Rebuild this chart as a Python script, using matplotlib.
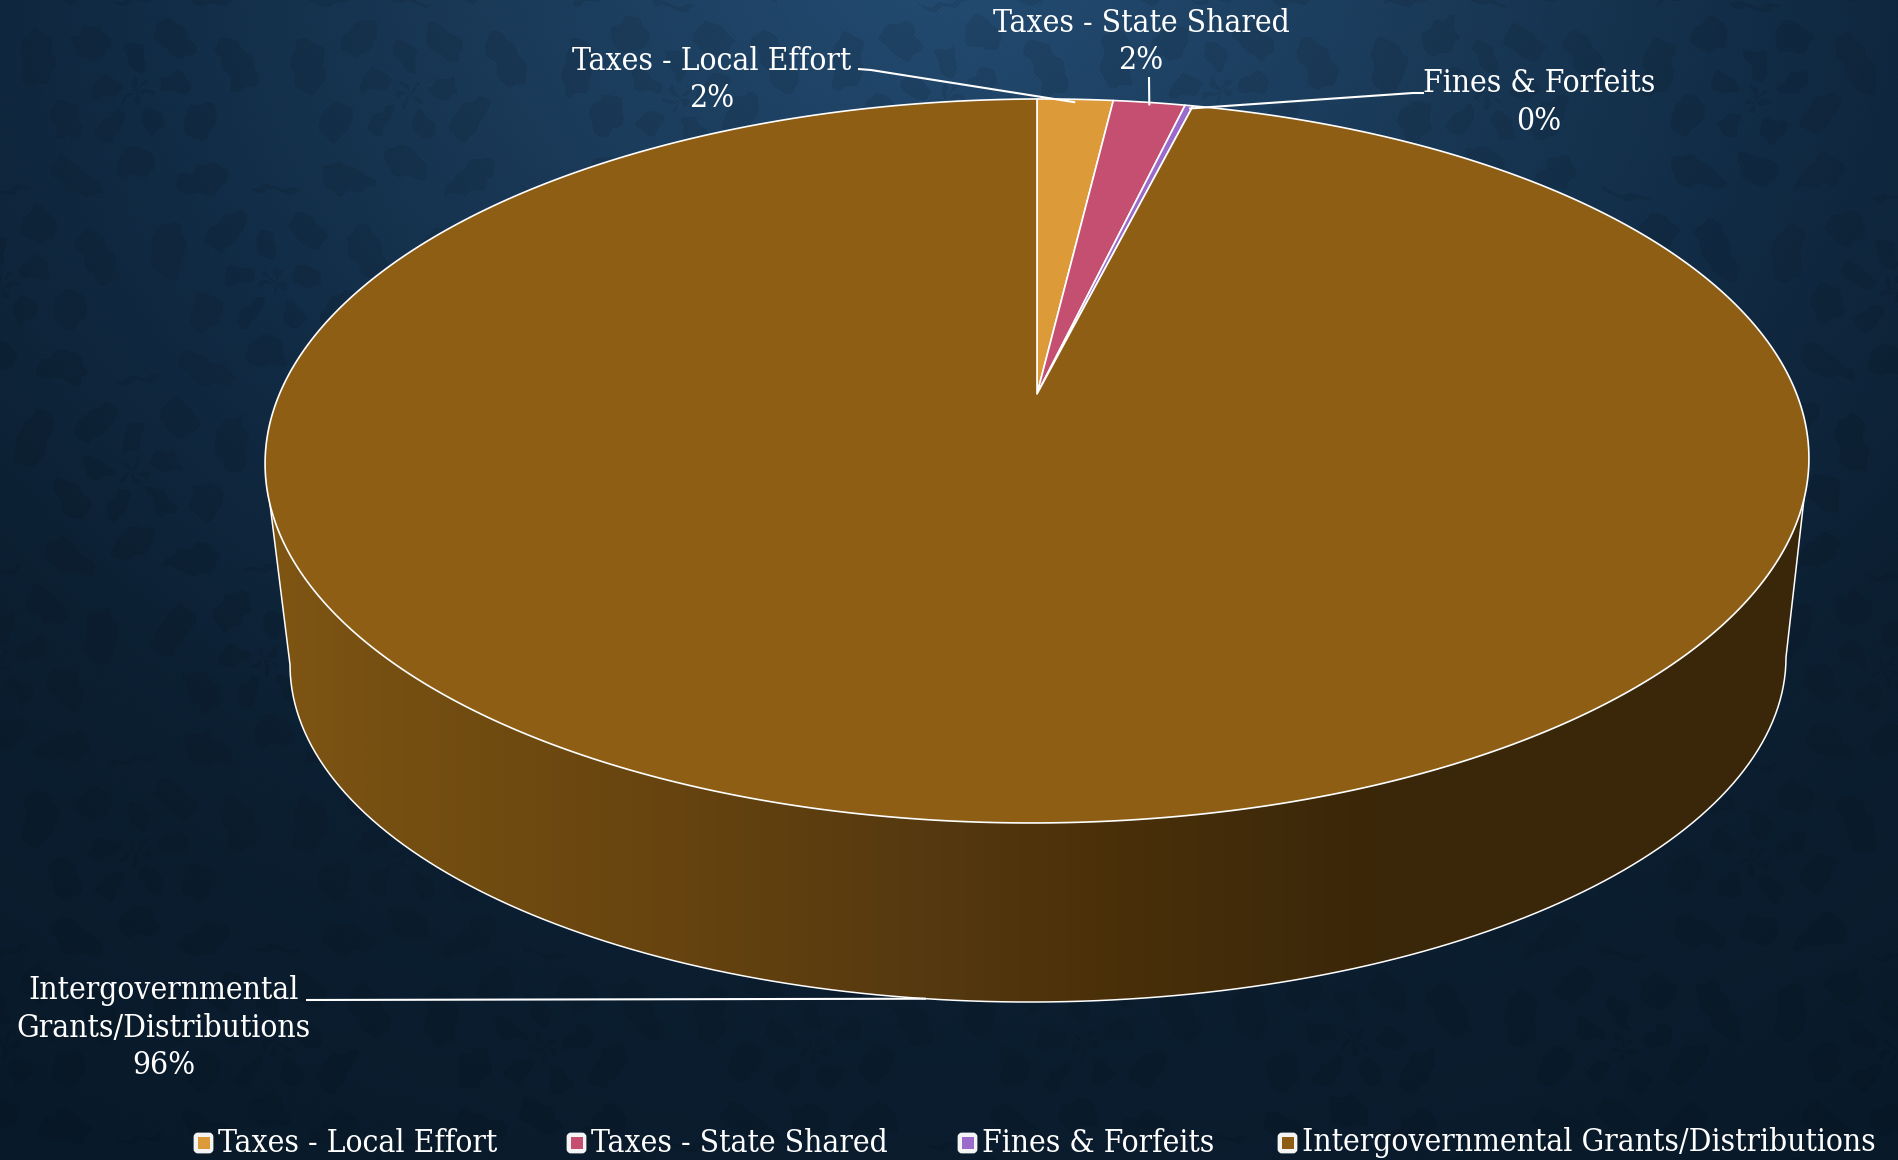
import numpy as np
import matplotlib.pyplot as plt
from matplotlib.colors import LinearSegmentedColormap
from matplotlib.patches import FancyBboxPatch, Polygon, Rectangle

# Revenue shares, in percent
categorias = ['Taxes - Local Effort', 'Taxes - State Shared', 'Fines & Forfeits',
              'Intergovernmental Grants/Distributions']
valores = [1.9, 1.8, 0.2, 96.1]
cores = ['#DD9A38', '#C44F70', '#9B6BCB', '#8E5E15']
rotulos = [['Taxes - Local Effort'], ['Taxes - State Shared'], ['Fines & Forfeits'],
           ['Intergovernmental', 'Grants/Distributions']]

LARGURA, ALTURA = 1898, 1160
FONTE = 'DejaVu Serif'
TAM_FONTE = 22.8


# Tilted disc seen in perspective, theta runs clockwise from the back of the pie
def discoSuperior(theta):
    u, v = np.sin(theta), np.cos(theta)
    w = 1 + 0.185 * v
    x = 758.6 * u / w
    y = 394 - 349.6 * v / w - 0.0035 * x
    return 1037 + x, y


def discoInferior(theta):
    x = 748 * np.sin(theta)
    y = 661 - 341 * np.cos(theta) - 0.005 * x
    return 1038 + x, y


# Dark navy backdrop with a faint repeating damask-like motif
def fundo():
    yy, xx = np.mgrid[0:ALTURA, 0:LARGURA].astype(float)
    t = np.sqrt(((xx - 960) / 1150) ** 2 + ((yy + 60) / 930) ** 2)
    stops = [0.0, 0.35, 0.7, 1.05, 1.5]
    canais = [[0x24, 0x1C, 0x12, 0x0C, 0x09],
              [0x4E, 0x3E, 0x2D, 0x20, 0x1A],
              [0x75, 0x5E, 0x47, 0x33, 0x2A]]
    img = np.dstack([np.interp(t, stops, c) for c in canais]) / 255

    # Slightly warped lattice so the motif edges look hand drawn
    xw = xx + 5 * np.sin(yy / 17) + 2 * np.sin((xx + yy) / 5)
    yw = yy + 5 * np.sin(xx / 19) + 2 * np.sin((xx - yy) / 4)
    px, py = 270.0, 190.0
    lin = np.floor(yw / py)
    lx = (xw + (lin % 2) * px / 2) % px - px / 2
    ly = yw % py - py / 2
    r = np.hypot(lx, ly)
    phi = np.arctan2(np.abs(lx), ly)
    motivo = (np.cos(2 * np.pi * r / 70) * np.cos(5 * phi) > 0.22) & (r < 120)
    grao = 0.985 + 0.015 * np.sin((xx + yy) * 1.3)
    return img * (1 - 0.08 * motivo[..., None]) * grao[..., None]


fig = plt.figure(figsize=(LARGURA / 100, ALTURA / 100), dpi=100)
ax = fig.add_axes([0, 0, 1, 1])
ax.imshow(fundo(), extent=(0, LARGURA, ALTURA, 0), aspect='auto', zorder=0)

fracoes = np.array(valores) / sum(valores)
limites = np.concatenate([[0], np.cumsum(fracoes)]) * 2 * np.pi

# Side wall of the pie, shaded from left to right
arco = np.radians(np.linspace(107, 253, 300))
xt, yt = discoSuperior(arco)
xb, yb = discoInferior(np.radians(np.linspace(270, 90, 300)))
lateral = Polygon(np.column_stack([np.r_[xt, xb], np.r_[yt, yb]]), closed=True,
                  facecolor='none', edgecolor='none')
ax.add_patch(lateral)
sombra = LinearSegmentedColormap.from_list('lateral', [
    (0.0, '#7F5512'), (0.07, '#765012'), (0.26, '#67440F'), (0.41, '#573A10'),
    (0.55, '#4A3009'), (0.66, '#3F2A0A'), (0.72, '#3B2608'), (1.0, '#3A2709')])
gradiente = ax.imshow(np.linspace(0, 1, 800)[None, :], extent=(270, 1805, 1010, 460),
                      aspect='auto', cmap=sombra, zorder=1)
gradiente.set_clip_path(lateral)
ax.plot(np.r_[xt[0], xb[::-1], xt[-1]], np.r_[yt[0], yb[::-1], yt[-1]],
        color='white', lw=1.1, zorder=2)

# Pie slices on the top face
for i in range(len(valores)):
    theta = np.linspace(limites[i], limites[i + 1], max(4, int(valores[i] * 12)))
    xr, yr = discoSuperior(theta)
    ax.add_patch(Polygon(np.column_stack([np.r_[1037, xr], np.r_[394, yr]]), closed=True,
                         facecolor=cores[i], edgecolor='white', lw=1.2, zorder=3,
                         joinstyle='round'))

# Labels with the share rounded to a whole percent
centros = [(712, 61), (1141, 23), (1539, 84), (164, 991)]
passo = 37.5
for nome, v, (cx, cy) in zip(rotulos, fracoes, centros):
    linhas = nome + ['{:.0f}%'.format(v * 100)]
    for j, linha in enumerate(linhas):
        ax.text(cx, cy + j * passo, linha, family=FONTE, fontsize=TAM_FONTE, color='white',
                stretch='condensed', ha='center', va='center', zorder=6)

# Leader lines from the labels to the middle of each slice
cotovelos = [[(858, 69), (871, 70)], [(1149, 77)], [(1424, 93), (1413, 93)], [(306, 1000)]]
for i, pontos in enumerate(cotovelos):
    meio = (limites[i] + limites[i + 1]) / 2
    if i == 3:
        fim = discoInferior(meio + np.radians(1.6))
    else:
        fim = discoSuperior(meio)
    xs = [p[0] for p in pontos] + [fim[0]]
    ys = [p[1] for p in pontos] + [fim[1] + (3 if i < 3 else 0)]
    ax.plot(xs, ys, color='white', lw=1.5, solid_capstyle='butt', zorder=5)

# Legend along the bottom edge
legenda_x = [193, 566, 957, 1277]
for nome, cor, x0 in zip(categorias, cores, legenda_x):
    ax.add_patch(FancyBboxPatch((x0 + 2, 1134), 17, 18, boxstyle='round,pad=0,rounding_size=3',
                                facecolor='#F4F4F4', edgecolor='#F4F4F4', lw=2, zorder=5))
    ax.add_patch(Rectangle((x0 + 5, 1137), 12, 12, facecolor=cor, edgecolor='none', zorder=6))
    ax.text(x0 + 25, 1143, nome, family=FONTE, fontsize=TAM_FONTE, color='white',
            stretch='condensed', ha='left', va='center', zorder=6)

ax.set_xlim(0, LARGURA)
ax.set_ylim(ALTURA, 0)
ax.axis('off')

plt.savefig('out.png', dpi=100)
